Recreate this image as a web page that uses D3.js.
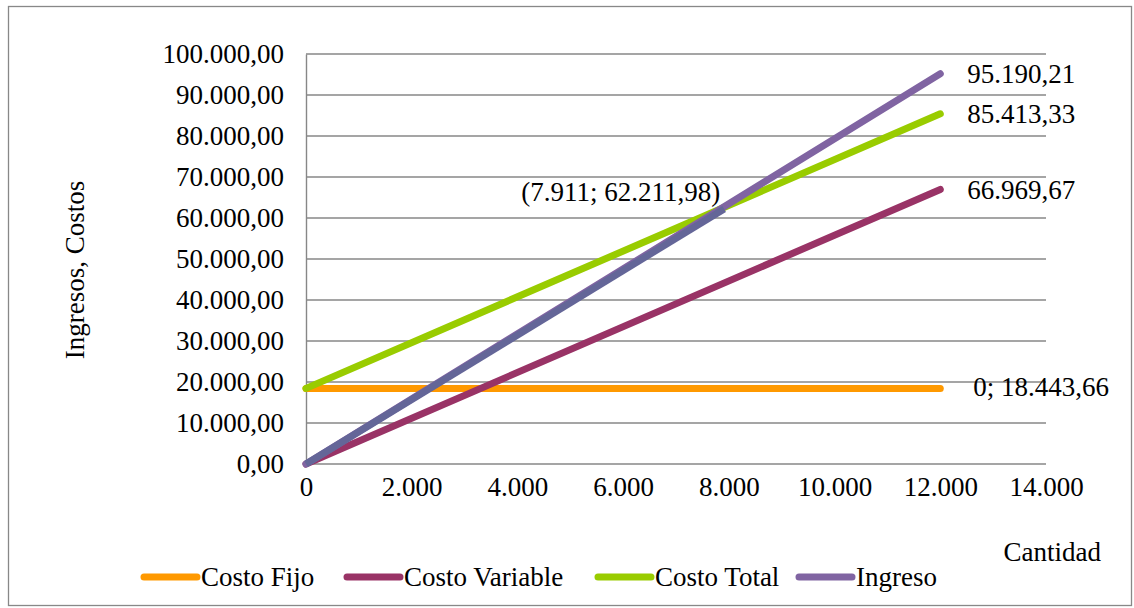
<!DOCTYPE html>
<html>
<head>
<meta charset="utf-8">
<script src="https://cdn.jsdelivr.net/npm/d3@7"></script>
<style>
  html, body { margin: 0; padding: 0; background: #fff; }
  svg { display: block; }
  text { font-family: "Liberation Serif", "Times New Roman", serif; fill: #000; }
</style>
</head>
<body>
<svg id="chart" width="1134" height="608"></svg>
<script>
// Punto de equilibrio: ingresos y costos según la cantidad
const cantidades = [0, 12000];
const costoFijo = [18443.66, 18443.66];
const costoVariable = [0, 66969.67];
const costoTotal = [18443.66, 85413.33];
const ingreso = [0, 95190.21];
const equilibrio = { x: [0, 7911], y: [0, 62211.98] };

const xTicks = [0, 2000, 4000, 6000, 8000, 10000, 12000, 14000];
const yTicks = [0, 10000, 20000, 30000, 40000, 50000, 60000, 70000, 80000, 90000, 100000];

const series = [
  { name: "Costo Fijo", values: costoFijo, color: "#FF9900" },
  { name: "Costo Variable", values: costoVariable, color: "#993366" },
  { name: "Costo Total", values: costoTotal, color: "#99CC00" },
  { name: "Ingreso", values: ingreso, color: "#8064A2" }
];

const FS = 27;
const es = d3.formatLocale({ decimal: ",", thousands: ".", grouping: [3], currency: ["", ""] });
const fmtY = es.format(",.2f");
const fmtX = es.format(",.0f");

const svg = d3.select("#chart");
const W = 1134, H = 608;

// Marco exterior
svg.append("rect")
  .attr("x", 8.5).attr("y", 6.5)
  .attr("width", W - 11).attr("height", H - 9)
  .attr("fill", "none").attr("stroke", "#888").attr("stroke-width", 1.3);

const plot = { left: 306, right: 1046, top: 54, bottom: 464 };
const x = d3.scaleLinear().domain([0, 14000]).range([plot.left, plot.right]);
const y = d3.scaleLinear().domain([0, 100000]).range([plot.bottom, plot.top]);

// Líneas de cuadrícula
svg.append("g")
  .selectAll("line").data(yTicks).join("line")
  .attr("x1", plot.left).attr("x2", plot.right)
  .attr("y1", d => y(d)).attr("y2", d => y(d))
  .attr("stroke", "#878787").attr("stroke-width", 1.4);

// Eje Y
const yAxis = svg.append("g")
  .attr("transform", `translate(${plot.left},0)`)
  .call(d3.axisLeft(y).tickValues(yTicks).tickFormat(fmtY).tickSize(0).tickPadding(22));
yAxis.attr("font-family", null);
yAxis.select(".domain").attr("stroke", "#878787").attr("stroke-width", 1.4);
yAxis.selectAll("text").attr("font-size", FS).attr("dy", "0.33em");

// Eje X
const xAxis = svg.append("g")
  .attr("transform", `translate(0,${plot.bottom})`)
  .call(d3.axisBottom(x).tickValues(xTicks).tickFormat(fmtX).tickSize(0).tickPadding(13));
xAxis.attr("font-family", null);
xAxis.select(".domain").remove();
xAxis.selectAll("text").attr("font-size", FS).attr("dy", "0.71em");

// Series
const line = d3.line().x(d => x(d[0])).y(d => y(d[1]));
series.forEach(s => {
  svg.append("path")
    .datum(cantidades.map((c, i) => [c, s.values[i]]))
    .attr("d", line)
    .attr("fill", "none")
    .attr("stroke", s.color)
    .attr("stroke-width", 7)
    .attr("stroke-linecap", "round");
});

// Tramo hasta el punto de equilibrio
svg.append("path")
  .datum(equilibrio.x.map((c, i) => [c, equilibrio.y[i]]))
  .attr("d", line)
  .attr("fill", "none")
  .attr("stroke", "#646698")
  .attr("stroke-width", 7);

// Etiquetas de datos
const lastX = cantidades[cantidades.length - 1];
[ingreso[1], costoTotal[1], costoVariable[1]].forEach(v => {
  svg.append("text")
    .attr("x", x(lastX) + 27).attr("y", y(v))
    .attr("dy", "0.35em").attr("font-size", FS)
    .text(fmtY(v));
});
svg.append("text")
  .attr("x", x(lastX) + 33).attr("y", y(costoFijo[0]) - 2)
  .attr("dy", "0.35em").attr("font-size", FS)
  .text(`0; ${fmtY(costoFijo[0])}`);
svg.append("text")
  .attr("x", x(equilibrio.x[1]) - 4).attr("y", y(equilibrio.y[1]) - 17)
  .attr("dy", "0.35em").attr("font-size", FS).attr("text-anchor", "end")
  .text(`(${fmtX(equilibrio.x[1])}; ${fmtY(equilibrio.y[1])})`);

// Títulos de ejes
svg.append("text")
  .attr("transform", "translate(75,270) rotate(-90)")
  .attr("text-anchor", "middle").attr("dy", "0.35em").attr("font-size", FS)
  .text("Ingresos, Costos");
svg.append("text")
  .attr("x", 1101).attr("y", 552).attr("text-anchor", "end")
  .attr("dy", "0.35em").attr("font-size", FS)
  .text("Cantidad");

// Leyenda
const legendPos = [141, 344, 595, 796];
const legend = svg.append("g");
series.forEach((s, i) => {
  const g = legend.append("g").attr("transform", `translate(${legendPos[i]},577)`);
  g.append("line")
    .attr("x1", 3).attr("x2", 56).attr("y1", 0).attr("y2", 0)
    .attr("stroke", s.color).attr("stroke-width", 7).attr("stroke-linecap", "round");
  g.append("text")
    .attr("x", 60).attr("y", 0).attr("dy", "0.35em").attr("font-size", FS)
    .text(s.name);
});
</script>
</body>
</html>
